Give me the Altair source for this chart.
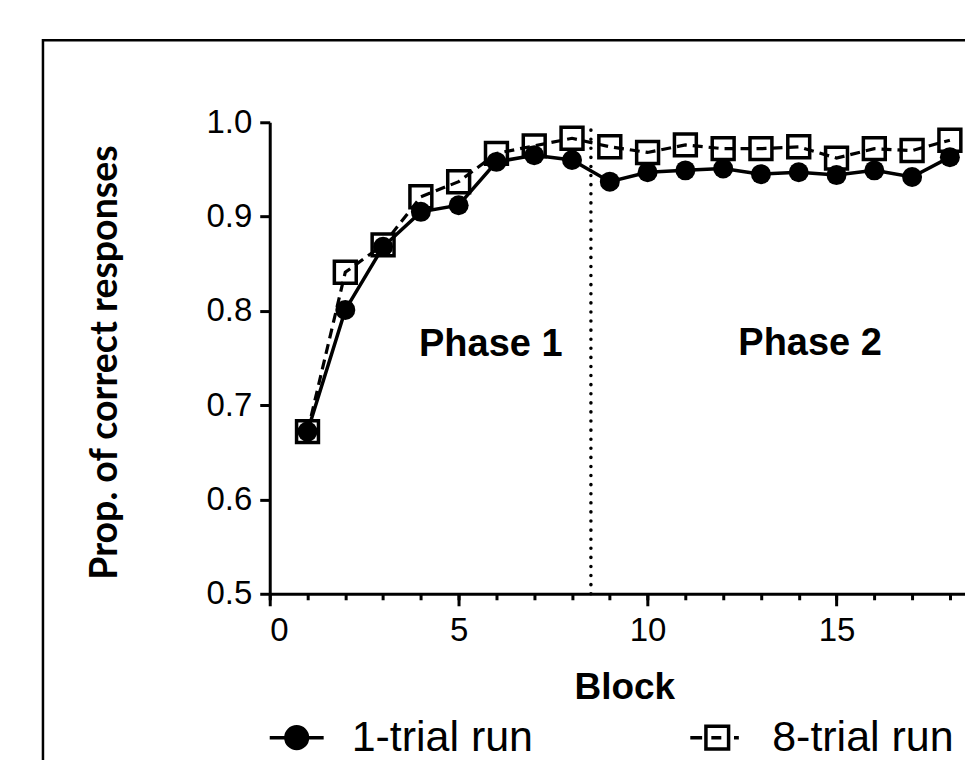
import altair as alt
import pandas as pd

blocks = list(range(1, 19))
one_trial = [0.672, 0.801, 0.868, 0.905, 0.912, 0.958, 0.965, 0.960, 0.937, 0.947,
             0.949, 0.951, 0.945, 0.947, 0.944, 0.949, 0.942, 0.963]
eight_trial = [0.672, 0.841, 0.870, 0.921, 0.937, 0.967, 0.975, 0.983, 0.974, 0.968,
               0.976, 0.972, 0.972, 0.974, 0.962, 0.972, 0.970, 0.981]
series_names = ["1-trial run", "8-trial run"]
phase_labels = ["Phase 1", "Phase 2"]
phase_x = [5.85, 14.3]
phase_y = [0.764, 0.765]
phase_boundary = 8.5
x_major_ticks = [0, 5, 10, 15]
x_minor_ticks = list(range(0, 19))
y_ticks = [0.5, 0.6, 0.7, 0.8, 0.9, 1.0]

W, H = 696, 472

df1 = pd.DataFrame({"block": blocks, "prop": one_trial})
df2 = pd.DataFrame({"block": blocks, "prop": eight_trial})
df_phase = pd.DataFrame({"x": phase_x, "y": phase_y, "label": phase_labels})
df_div = pd.DataFrame({"x": [phase_boundary], "y": [0.5], "y2": [1.0]})
df_leg = pd.DataFrame({"x": [-5, -5], "y": [0.6, 0.6], "series": series_names})

xs = alt.Scale(domain=[0, 18.4], nice=False, zero=False)
ys = alt.Scale(domain=[0.5, 1.0], nice=False, zero=False)

major_x_axis = alt.Axis(values=x_major_ticks, orient="bottom", tickSize=12, labelPadding=9,
                        grid=False, title="Block", titleFont="Liberation Sans",
                        titleFontWeight="bold", titleFontSize=37, titleX=355, titleY=105,
                        titleBaseline="alphabetic", titleAlign="center")
minor_x_axis = alt.Axis(values=x_minor_ticks, orient="bottom", tickSize=6, labels=False,
                        domain=False, grid=False, title=None)
y_axis = alt.Axis(values=y_ticks, orient="left", format=".1f", tickSize=10, labelPadding=8,
                  grid=False, title="Prop. of correct responses", titleFont="Lato",
                  titleFontWeight="bold", titleFontSize=37.5, titleAngle=-90, titleX=-164,
                  titleY=240, titleAlign="center", titleBaseline="middle")

path_circle = ("M-1,0H-0.42 M0.42,0H1 M-0.4,0 A0.4,0.4 0 1,0 0.4,0 "
               "A0.4,0.4 0 1,0 -0.4,0 Z")
path_square = ("M-1,0H-0.56 M-0.42,-0.42H0.42V0.42H-0.42Z M-0.22,0H0.15 M0.62,0H0.8")

leg = alt.Legend(orient="none", legendX=-2, legendY=587, direction="horizontal", columns=2,
                 title=None, symbolSize=2916, labelFontSize=43, labelFont="Liberation Sans",
                 labelColor="black", labelOffset=26, labelLimit=500, columnPadding=150,
                 symbolStrokeWidth=3.5, symbolStrokeColor="black", padding=0)

border = alt.Chart(pd.DataFrame({"a": [0]})).mark_rect(
    fillOpacity=0, stroke="black", strokeWidth=2.5
).encode(x=alt.value(-227), x2=alt.value(1000), y=alt.value(-82), y2=alt.value(1000))

divider = alt.Chart(df_div).mark_rule(strokeDash=[0.1, 9], strokeWidth=3.5,
                                      strokeCap="round", color="black").encode(
    x=alt.X("x:Q", scale=xs, axis=None),
    y=alt.Y("y:Q", scale=ys, axis=None),
    y2="y2:Q",
)

line2 = alt.Chart(df2).mark_line(color="black", strokeWidth=3.2, strokeDash=[10, 6]).encode(
    x=alt.X("block:Q", scale=xs, axis=major_x_axis),
    y=alt.Y("prop:Q", scale=ys, axis=y_axis),
)
pts2 = alt.Chart(df2).mark_point(shape="square", size=480, filled=False, stroke="black",
                                 strokeWidth=3.5, opacity=1).encode(
    x=alt.X("block:Q", scale=xs, axis=None),
    y=alt.Y("prop:Q", scale=ys, axis=None),
)
line1 = alt.Chart(df1).mark_line(color="black", strokeWidth=3.5).encode(
    x=alt.X("block:Q", scale=xs, axis=minor_x_axis),
    y=alt.Y("prop:Q", scale=ys, axis=None),
)
pts1 = alt.Chart(df1).mark_point(shape="circle", size=400, filled=True, color="black",
                                 opacity=1).encode(
    x=alt.X("block:Q", scale=xs, axis=None),
    y=alt.Y("prop:Q", scale=ys, axis=None),
)
phase_text = alt.Chart(df_phase).mark_text(font="Liberation Sans", fontWeight="bold",
                                           fontSize=38, color="black").encode(
    x=alt.X("x:Q", scale=xs, axis=None),
    y=alt.Y("y:Q", scale=ys, axis=None),
    text="label:N",
)
legend_layer = alt.Chart(df_leg).mark_point(clip=True, strokeWidth=3.5, opacity=1).encode(
    x=alt.X("x:Q", scale=xs, axis=None),
    y=alt.Y("y:Q", scale=ys, axis=None),
    shape=alt.Shape("series:N", scale=alt.Scale(domain=series_names,
                                                range=[path_circle, path_square]), legend=leg),
    fill=alt.Fill("series:N", scale=alt.Scale(domain=series_names,
                                              range=["black", "white"]), legend=leg),
    stroke=alt.Stroke("series:N", scale=alt.Scale(domain=series_names,
                                                  range=["black", "black"]), legend=leg),
)

chart = alt.layer(
    border, divider, line2, pts2, line1, pts1, phase_text, legend_layer
).resolve_axis(x="independent", y="independent").properties(
    width=W, height=H,
    autosize=alt.AutoSizeParams(type="none"),
    padding={"left": 262, "top": 114, "right": 0, "bottom": 166},
    background="white",
).configure_view(strokeWidth=0).configure_axis(
    labelFont="Liberation Sans", labelFontSize=33, labelColor="black",
    domainColor="black", domainWidth=3, tickColor="black", tickWidth=3,
)

chart.save("out.html", embed_options={"renderer": "svg", "actions": False})
